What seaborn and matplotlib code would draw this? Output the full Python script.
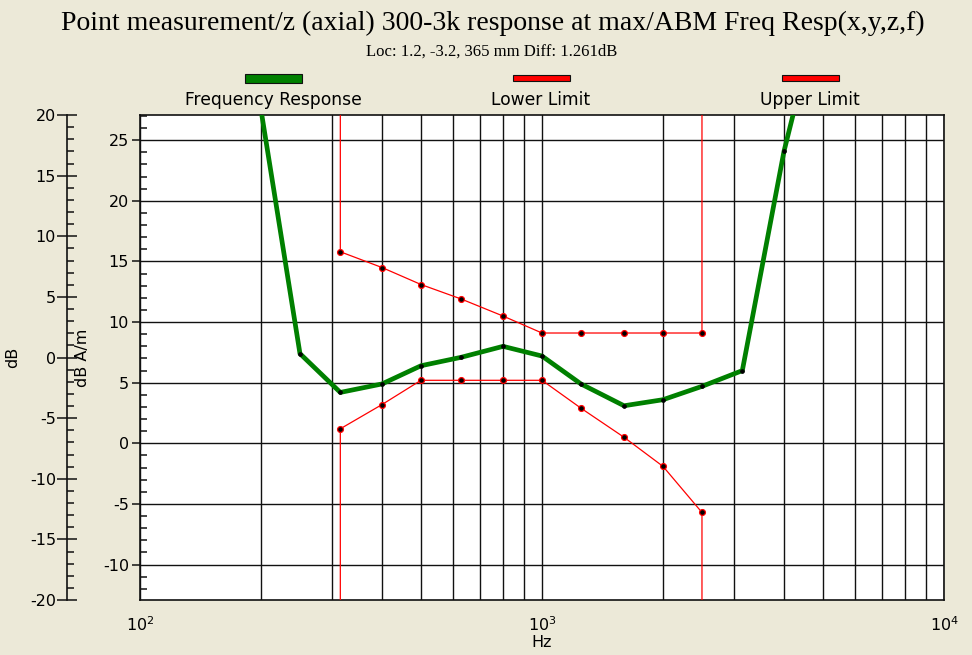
import numpy as np
import pandas as pd
import matplotlib
matplotlib.use("Agg")
import matplotlib.pyplot as plt
import seaborn as sns
from matplotlib.ticker import LogLocator, MultipleLocator, NullFormatter
from matplotlib.patches import Rectangle

# measured response (dB A/m) at the 1/3 octave points
freq_hz = [200, 250, 315, 400, 500, 630, 800, 1000, 1250, 1600, 2000, 2500, 3150, 4000, 5000]
response_dbam = [27.5, 7.4, 4.2, 4.9, 6.4, 7.1, 8.0, 7.2, 4.9, 3.1, 3.6, 4.7, 6.0, 24.1, 37.0]

# tolerance mask, open ended (+/-100) outside 315..2500 Hz
limit_freq_hz = [315, 315, 400, 500, 630, 800, 1000, 1250, 1600, 2000, 2500, 2500]
lower_limit_dbam = [-100, 1.2, 3.2, 5.2, 5.2, 5.2, 5.2, 2.9, 0.5, -1.9, -5.7, -100]
upper_limit_dbam = [100, 15.8, 14.5, 13.1, 11.9, 10.5, 9.1, 9.1, 9.1, 9.1, 9.1, 100]

legend_labels = ["Frequency Response", "Lower Limit", "Upper Limit"]

DBAM_OFFSET = 7.08  # dB A/m = dB + offset
DB_RANGE = (-20, 20)

BG = "#ECE9D8"
GREEN = "#008000"
RED = "#FF0000"
INK = "#111111"

sns.set_style("white")
plt.rcParams["font.family"] = ["DejaVu Sans"]
plt.rcParams["axes.unicode_minus"] = False
plt.rcParams["text.color"] = "black"
plt.rcParams["axes.labelcolor"] = "black"
plt.rcParams["xtick.color"] = INK
plt.rcParams["ytick.color"] = INK
plt.rcParams["xtick.labelcolor"] = "black"
plt.rcParams["ytick.labelcolor"] = "black"

fig = plt.figure(figsize=(9.72, 6.55), dpi=100)
fig.patch.set_facecolor(BG)

W, H = 972, 655
left, right, top, bottom = 140, 944, 115, 600
ax = fig.add_axes([left / W, 1 - bottom / H, (right - left) / W, (bottom - top) / H])
ax.set_facecolor("white")

ax.set_xscale("log")
ax.set_xlim(100, 10000)
ax.set_ylim(DB_RANGE[0] + DBAM_OFFSET, DB_RANGE[1] + DBAM_OFFSET)

lim_df = pd.DataFrame({
    "f": limit_freq_hz,
    "lower": lower_limit_dbam,
    "upper": upper_limit_dbam,
})
resp_df = pd.DataFrame({"f": freq_hz, "resp": response_dbam})

for col in ["lower", "upper"]:
    sns.lineplot(
        data=lim_df, x="f", y=col, ax=ax,
        estimator=None, sort=False,
        color=RED, linewidth=0.9,
        marker="o", markersize=4.2,
        markerfacecolor="black", markeredgecolor=RED, markeredgewidth=0.9,
        zorder=3,
    )

sns.lineplot(
    data=resp_df, x="f", y="resp", ax=ax,
    estimator=None, sort=False,
    color=GREEN, linewidth=3.4,
    marker="o", markersize=2.6,
    markerfacecolor="black", markeredgecolor="black",
    zorder=4,
)

# grid
ax.xaxis.set_major_locator(LogLocator(base=10))
ax.xaxis.set_minor_locator(LogLocator(base=10, subs=np.arange(2, 10)))
ax.xaxis.set_minor_formatter(NullFormatter())
ax.yaxis.set_major_locator(MultipleLocator(5))
ax.yaxis.set_minor_locator(MultipleLocator(1))
ax.grid(which="both", axis="x", color=INK, linewidth=1.0)
ax.grid(which="major", axis="y", color=INK, linewidth=1.0)
ax.set_axisbelow(True)

for s in ax.spines.values():
    s.set_color(INK)
    s.set_linewidth(1.2)

ax.tick_params(axis="x", which="major", direction="out", length=8, width=1.1,
               labelsize=11.5, pad=3)
ax.tick_params(axis="x", which="minor", length=0)
ax.tick_params(axis="y", which="major", direction="out", length=6, width=1.1,
               labelsize=11.5, pad=2)
ax.tick_params(axis="y", which="minor", direction="in", length=5, width=1.1)

ax.set_xlabel("Hz", fontsize=11.5, labelpad=1)
ax.set_ylabel("dB A/m", fontsize=11.5)
ax.yaxis.set_label_coords((90 - left) / (right - left), 0.5)

# outer dB axis
ax2 = ax.twinx()
ax2.set_ylim(*DB_RANGE)
for side in ["right", "top", "bottom"]:
    ax2.spines[side].set_visible(False)
ax2.spines["left"].set_position(("axes", (67 - left) / (right - left)))
ax2.spines["left"].set_color(INK)
ax2.spines["left"].set_linewidth(1.2)
ax2.yaxis.set_ticks_position("left")
ax2.yaxis.set_label_position("left")
ax2.yaxis.set_major_locator(MultipleLocator(5))
ax2.yaxis.set_minor_locator(MultipleLocator(1))
ax2.tick_params(axis="y", which="major", direction="inout", length=14, width=1.1,
                labelsize=11.5, pad=1)
ax2.tick_params(axis="y", which="minor", direction="in", length=5, width=1.1)
ax2.set_ylabel("dB", fontsize=11.5)
ax2.yaxis.set_label_coords((20 - left) / (right - left), 0.5)

# titles
fig.text(493 / W, 1 - 23 / H, "Point measurement/z (axial) 300-3k response at max/ABM Freq Resp(x,y,z,f)",
         family=["Liberation Serif"], fontsize=20, ha="center", va="center")
fig.text(492 / W, 1 - 52 / H, "Loc: 1.2, -3.2, 365 mm Diff: 1.261dB",
         family=["Liberation Serif"], fontsize=12, ha="center", va="center")

# legend strip
legend_colors = [GREEN, RED, RED]
legend_heights = [9, 5, 5]
legend_cx = [273, 541, 810]
for lab, c, h, cx in zip(legend_labels, legend_colors, legend_heights, legend_cx):
    fig.patches.append(Rectangle(((cx - 28.5) / W, 1 - (78 + h / 2) / H), 57 / W, h / H,
                                 transform=fig.transFigure, facecolor=c,
                                 edgecolor=INK, linewidth=0.8))
    fig.text(cx / W, 1 - 100 / H, lab, fontsize=12.3, ha="center", va="center")

fig.savefig("out.png", dpi=100, facecolor=BG)
